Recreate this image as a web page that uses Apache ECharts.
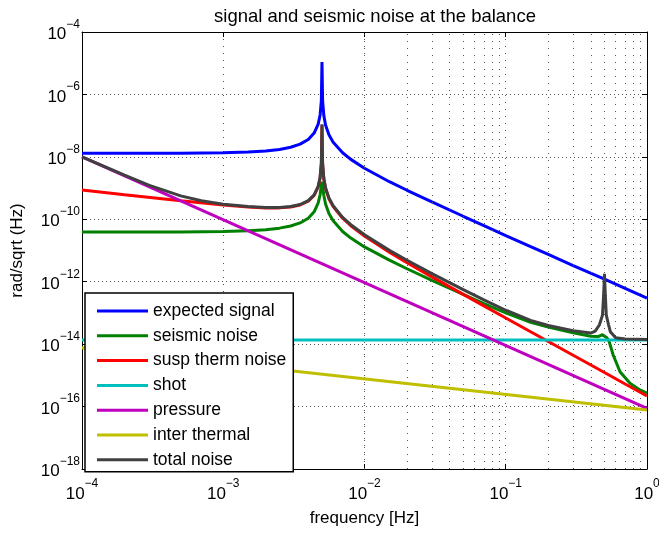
<!DOCTYPE html>
<html>
<head>
<meta charset="utf-8">
<script src="https://cdn.jsdelivr.net/npm/echarts@6/dist/echarts.min.js"></script>
<style>
  html, body { margin: 0; padding: 0; background: #fff; }
  #chart { width: 659px; height: 534px; }
</style>
</head>
<body>
<div id="chart"></div>
<script>
// values (rad/sqrt(Hz) against frequency in Hz)
var signalFreq = [1e-4, 2e-4, 5e-4, 1e-3, 1.5e-3, 2e-3, 2.5e-3, 3e-3, 3.5e-3, 4e-3, 4.4e-3, 4.7e-3, 4.85e-3, 4.95e-3, 5e-3, 5.05e-3, 5.15e-3, 5.3e-3, 5.6e-3, 6e-3, 7e-3, 8e-3, 1e-2, 1.5e-2, 2e-2, 3e-2, 5e-2, 7e-2, 0.1, 0.15, 0.2, 0.3, 0.5, 0.7, 1];
var signal = [1.3e-8, 1.3e-8, 1.31e-8, 1.35e-8, 1.43e-8, 1.55e-8, 1.73e-8, 2.03e-8, 2.55e-8, 3.6e-8, 5.8e-8, 1.12e-7, 2.2e-7, 6.5e-7, 1.1e-5, 6.5e-7, 2.13e-7, 1.05e-7, 5.1e-8, 2.95e-8, 1.35e-8, 8.3e-9, 4.33e-9, 1.6e-9, 8.5e-10, 3.6e-10, 1.25e-10, 6.3e-11, 3.0e-11, 1.33e-11, 7.5e-12, 3.3e-12, 1.2e-12, 6.1e-13, 3.0e-13];

var seismicFreq = [1e-4, 5e-4, 1e-3, 1.5e-3, 2e-3, 2.5e-3, 3e-3, 3.5e-3, 4e-3, 4.4e-3, 4.7e-3, 4.85e-3, 4.95e-3, 5e-3, 5.05e-3, 5.15e-3, 5.3e-3, 5.6e-3, 6e-3, 7e-3, 8e-3, 1e-2, 1.5e-2, 2e-2, 3e-2, 5e-2, 7e-2, 0.1, 0.15, 0.2, 0.3, 0.4, 0.45, 0.484, 0.5, 0.52, 0.54, 0.576, 0.644, 0.758, 0.89, 1];
var seismic = [3.9e-11, 3.94e-11, 4.06e-11, 4.29e-11, 4.64e-11, 5.2e-11, 6.09e-11, 7.64e-11, 1.08e-10, 1.73e-10, 3.35e-10, 6.1e-10, 1.25e-9, 1.6e-9, 1.23e-9, 5.9e-10, 3.1e-10, 1.53e-10, 8.9e-11, 4.06e-11, 2.5e-11, 1.3e-11, 4.9e-12, 2.6e-12, 1.11e-12, 3.94e-13, 2.0e-13, 1.0e-13, 5.0e-14, 3.5e-14, 2.3e-14, 1.8e-14, 1.75e-14, 2.0e-14, 2.2e-14, 1.6e-14, 1.2e-14, 4.5e-15, 1.3e-15, 5.6e-16, 3.4e-16, 2.7e-16];

var suspFreq = [1e-4, 2e-4, 5e-4, 1e-3, 1.5e-3, 2e-3, 2.5e-3, 3e-3, 3.5e-3, 4e-3, 4.4e-3, 4.7e-3, 4.85e-3, 4.95e-3, 5e-3, 5.05e-3, 5.15e-3, 5.3e-3, 5.6e-3, 6e-3, 7e-3, 8e-3, 1e-2, 1.5e-2, 2e-2, 3e-2, 5e-2, 7e-2, 0.1, 0.15, 0.2, 0.3, 0.5, 0.7, 1];
var suspThermal = [8.7e-10, 6.16e-10, 3.93e-10, 2.86e-10, 2.47e-10, 2.32e-10, 2.32e-10, 2.48e-10, 2.88e-10, 3.82e-10, 5.81e-10, 1.09e-9, 2.11e-9, 6.22e-9, 1.05e-7, 6.09e-9, 1.99e-9, 9.67e-10, 4.57e-10, 2.55e-10, 1.08e-10, 6.23e-11, 2.9e-11, 8.87e-12, 4.1e-12, 1.43e-12, 3.93e-13, 1.69e-13, 6.89e-14, 2.5e-14, 1.22e-14, 4.42e-15, 1.23e-15, 5.3e-16, 2.18e-16];

var shotFreq = [1e-4, 1];
var shot = [1.35e-14, 1.35e-14];

var pressureFreq = [1e-4, 1];
var pressure = [1e-8, 8.8e-17];

var interFreq = [1e-4, 1];
var interThermal = [7.6e-15, 7.8e-17];

var totalFreq = [1e-4, 2e-4, 3e-4, 5e-4, 7e-4, 1e-3, 1.5e-3, 2e-3, 2.5e-3, 3e-3, 3.5e-3, 4e-3, 4.4e-3, 4.7e-3, 4.85e-3, 4.95e-3, 5e-3, 5.05e-3, 5.15e-3, 5.3e-3, 5.6e-3, 6e-3, 7e-3, 8e-3, 1e-2, 1.5e-2, 2e-2, 3e-2, 5e-2, 7e-2, 0.1, 0.15, 0.2, 0.3, 0.4, 0.43, 0.46, 0.484, 0.493, 0.5, 0.507, 0.515, 0.535, 0.55, 0.6, 0.7, 1];
var total = [1.0e-8, 2.58e-9, 1.22e-9, 5.61e-10, 3.92e-10, 3.03e-10, 2.55e-10, 2.38e-10, 2.38e-10, 2.56e-10, 2.98e-10, 3.97e-10, 6.06e-10, 1.14e-9, 2.2e-9, 6.34e-9, 1.1e-7, 6.21e-9, 2.08e-9, 1.02e-9, 4.82e-10, 2.7e-10, 1.15e-10, 6.7e-11, 3.18e-11, 1.01e-11, 4.86e-12, 1.81e-12, 5.58e-13, 2.63e-13, 1.22e-13, 5.77e-14, 3.95e-14, 2.7e-14, 2.26e-14, 2.6e-14, 4.1e-14, 8.5e-14, 3.7e-13, 1.8e-12, 3.7e-13, 8.5e-14, 4.1e-14, 2.5e-14, 1.6e-14, 1.45e-14, 1.4e-14];

var seriesNames = ['expected signal', 'seismic noise', 'susp therm noise', 'shot', 'pressure', 'inter thermal', 'total noise'];
var seriesColors = ['#0000ff', '#008000', '#ff0000', '#00bfbf', '#bf00bf', '#bfbf00', '#404040'];

var FONT = 'Liberation Sans, Arial, Helvetica, sans-serif';

function pairs(xs, ys) {
    return xs.map(function (x, i) { return [x, ys[i]]; });
}

// "10^n" tick labels, exponent raised with bottom padding
function powLabel(v) {
    var e = Math.round(Math.log10(v));
    return '{b|10}{e|' + (e < 0 ? '\u2212' : '') + Math.abs(e) + '}';
}
var powRich = {
    b: { fontSize: 17, color: '#000', fontFamily: FONT, padding: [5, 0, 0, 0] },
    e: { fontSize: 12, color: '#000', fontFamily: FONT, padding: [0, 0, 15, 0] }
};

// minor vertical grid lines at 2..9 of each decade
var minorGrid = [];
for (var d = -4; d < 0; d++) {
    for (var k = 2; k <= 9; k++) minorGrid.push({ xAxis: k * Math.pow(10, d) });
}

var dataSets = [
    pairs(signalFreq, signal),
    pairs(seismicFreq, seismic),
    pairs(suspFreq, suspThermal),
    pairs(shotFreq, shot),
    pairs(pressureFreq, pressure),
    pairs(interFreq, interThermal),
    pairs(totalFreq, total)
];

var series = dataSets.map(function (data, i) {
    return {
        type: 'line',
        name: seriesNames[i],
        data: data,
        showSymbol: false,
        symbol: 'none',
        lineStyle: { color: seriesColors[i], width: 3 },
        itemStyle: { color: seriesColors[i] },
        z: 3 + i
    };
});

// helper series that only carries the minor grid
series.unshift({
    type: 'line',
    name: '_grid',
    data: [],
    silent: true,
    z: 1,
    markLine: {
        silent: true,
        symbol: 'none',
        animation: false,
        label: { show: false },
        lineStyle: { type: [1, 6], color: '#555', width: 1 },
        data: minorGrid
    }
});

var chart = echarts.init(document.getElementById('chart'), null, { renderer: 'canvas' });

var option = {
    animation: false,
    backgroundColor: '#fff',
    title: {
        text: 'signal and seismic noise at the balance',
        left: 370,
        top: 2,
        textAlign: 'center',
        textStyle: { fontSize: 18.5, fontWeight: 'normal', color: '#000', fontFamily: FONT }
    },
    grid: { left: 82, right: 12, top: 32, bottom: 65, containLabel: false, outerBoundsMode: 'none' },
    legend: {
        data: seriesNames,
        orient: 'vertical',
        left: 85,
        top: 293,
        padding: [9, 7, 3, 12],
        itemGap: 6.8,
        itemWidth: 51,
        itemHeight: 3,
        icon: 'rect',
        backgroundColor: '#fff',
        borderColor: '#000',
        borderWidth: 1.5,
        textStyle: { fontSize: 17.5, color: '#000', fontFamily: FONT },
        z: 20
    },
    xAxis: [{
        type: 'log',
        logBase: 10,
        min: 1e-4,
        max: 1,
        name: 'frequency [Hz]',
        nameLocation: 'middle',
        nameGap: 41,
        nameTextStyle: { fontSize: 17, color: '#000', fontFamily: FONT },
        axisLine: { lineStyle: { color: '#000', width: 1 } },
        axisTick: { inside: true, length: 5, lineStyle: { color: '#000' } },
        axisLabel: { formatter: powLabel, rich: powRich, margin: 9, hideOverlap: false },
        splitLine: { show: true, lineStyle: { type: [1, 6], color: '#555', width: 1 } }
    }, {
        type: 'log',
        logBase: 10,
        min: 1e-4,
        max: 1,
        position: 'top',
        axisLine: { lineStyle: { color: '#000', width: 1 } },
        axisTick: { inside: true, length: 5, lineStyle: { color: '#000' } },
        axisLabel: { show: false },
        splitLine: { show: false }
    }],
    yAxis: [{
        type: 'log',
        logBase: 10,
        min: 1e-18,
        max: 1e-4,
        interval: 2,
        name: 'rad/sqrt (Hz)',
        nameLocation: 'middle',
        nameGap: 56,
        nameTextStyle: { fontSize: 17, color: '#000', fontFamily: FONT },
        axisLine: { show: true, lineStyle: { color: '#000', width: 1 } },
        axisTick: { show: true, inside: true, length: 5, lineStyle: { color: '#000' } },
        axisLabel: { formatter: powLabel, rich: powRich, margin: 2 },
        splitLine: { show: true, lineStyle: { type: [1, 3], color: '#555', width: 1 } }
    }, {
        type: 'log',
        logBase: 10,
        min: 1e-18,
        max: 1e-4,
        interval: 2,
        position: 'right',
        axisLine: { show: true, lineStyle: { color: '#000', width: 1 } },
        axisTick: { show: true, inside: true, length: 5, lineStyle: { color: '#000' } },
        axisLabel: { show: false },
        splitLine: { show: false }
    }],
    series: series
};

chart.setOption(option);
</script>
</body>
</html>
